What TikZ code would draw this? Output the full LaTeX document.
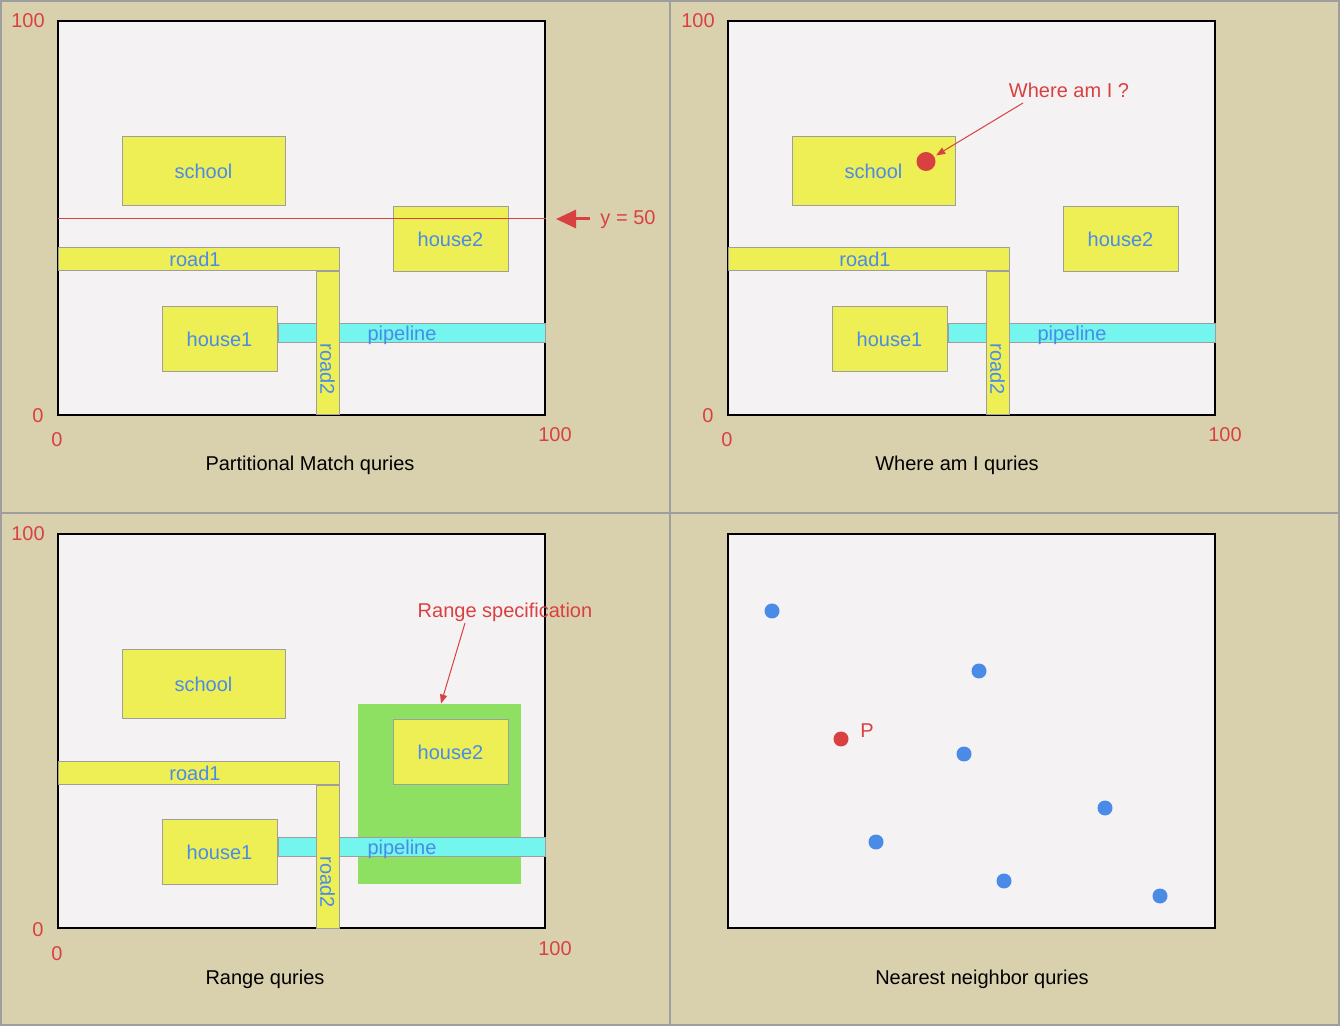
\documentclass[tikz,border=0pt]{standalone}
\usepackage{fontspec}
\setmainfont{Liberation Sans}
\usetikzlibrary{arrows.meta,positioning}
\definecolor{panelbg}{HTML}{D9D1AE}
\definecolor{mapbg}{HTML}{F4F2F3}
\definecolor{plotyellow}{HTML}{EEEE55}
\definecolor{pipecyan}{HTML}{74F5EE}
\definecolor{rangegreen}{HTML}{8EE062}
\definecolor{labelblue}{HTML}{4A8BE8}
\definecolor{notered}{HTML}{D94141}
\definecolor{framegray}{HTML}{9E9E9E}
\tikzset{
  block/.style={draw=framegray, fill=plotyellow, line width=0.5pt, inner sep=0pt, text=labelblue},
  pipe/.style={draw=framegray, fill=pipecyan, line width=0.5pt, inner sep=0pt},
  lbl/.style={text=labelblue, inner sep=0pt},
  axisnum/.style={text=notered, inner sep=0pt, anchor=base},
  note/.style={text=notered, inner sep=0pt, anchor=base},
  qtitle/.style={text=black, inner sep=0pt, anchor=base},
  pointer/.style={draw=notered, line width=0.5pt, -{Triangle[length=4.5pt,width=3.5pt]}},
  dot/.style={circle, fill=labelblue, inner sep=0pt, minimum size=7.5pt},
  red dot/.style={circle, fill=notered, inner sep=0pt, minimum size=7.5pt},
}

\begin{document}
\begin{tikzpicture}[x=0.5pt, y=-0.5pt, font=\fontsize{10}{12}\selectfont]
  \useasboundingbox (0,0) rectangle (1340,1026);

  % Panels
  \fill[panelbg] (0,0) rectangle (1340,1026);
  \draw[framegray, line width=1pt] (670,0) -- (670,1026) (0,513) -- (1340,513);
  \draw[framegray, line width=1pt] (1,1) rectangle (1339,1025);

  % Map areas
  \foreach \dx/\dy in {0/0,670/0,0/513,670/513}
    \draw[fill=mapbg, line width=0.7pt] ({58+\dx},{21+\dy}) rectangle ({545+\dx},{415+\dy});

  % Range specification box
  \node[fill=rangegreen, inner sep=0pt, minimum width=81.5pt, minimum height=90pt] (range) at (439.5,794) {};

  % City maps
  \foreach \dx/\dy/\p in {0/0/a,670/0/b,0/513/c} {
    \begin{scope}[shift={(\dx,\dy)}]
      \node[pipe, minimum width=133.5pt, minimum height=9.5pt] (pipe-\p) at (411.5,333.5) {};
      \node[block, minimum width=140.5pt, minimum height=11.5pt] (road1-\p) at (198.5,259.5) {};
      \node[block, minimum width=11.5pt, minimum height=71.5pt] (road2-\p) at (327.5,343.5) {};
      \node[block, minimum width=81.5pt, minimum height=34.5pt] (school-\p) at (203.5,171) {school};
      \node[block, minimum width=57.5pt, minimum height=32.5pt] (house1-\p) at (219.5,339) {house1};
      \node[block, minimum width=57.5pt, minimum height=32.5pt] (house2-\p) at (450.5,239) {house2};
      \node[lbl, anchor=base] (road1txt-\p) at (195,267) {road1};
      \node[lbl, anchor=base] (pipetxt-\p) at (402,341) {pipeline};
      \node[lbl, rotate=-90] (road2txt-\p) at (327.5,369) {road2};
      % Axis values
      \node[axisnum] (ymax-\p) at (28,28) {100};
      \node[axisnum] (ymin-\p) at (38,423) {0};
      \node[axisnum] (xmin-\p) at (57,447) {0};
      \node[axisnum] (xmax-\p) at (555,442) {100};
    \end{scope}
  }

  % Partitional match
  \draw[notered, line width=0.5pt] (58,219) -- (546,219);
  \node[note] (ylbl) at (628,225) {y = 50};
  \coordinate (yhead) at (556,219);
  \draw[notered, line width=1.5pt, -{Triangle[length=10pt,width=9pt]}, shorten <=5pt] (ylbl.west |- yhead) -- (yhead);

  % Where am I
  \node[red dot, minimum size=9.5pt] (me) at (926,161.5) {};
  \node[note] (whereLbl) at (1069,98) {Where am I ?};
  \coordinate (whereTail) at (1023,103);
  \draw[pointer, shorten >=1pt] (whereTail) -- (me);

  % Range query
  \node[note] (rangeLbl) at (505,618) {Range specification};
  \coordinate (rangeTail) at (465,623);
  \draw[pointer] (rangeTail) -- ([xshift=0.75pt]range.north);

  % Nearest neighbor
  \foreach \x/\y [count=\i] in {772/611,979/671,964/754,1105/808,876/842,1004/881,1160/896}
    \node[dot] (pt-\i) at (\x,\y) {};
  \node[red dot] (query) at (841,739) {};
  \node[note] (queryLbl) at (867,738) {P};

  % Titles
  \node[qtitle] (title-a) at (310,471) {Partitional Match quries};
  \node[qtitle] (title-b) at (957,471) {Where am I quries};
  \node[qtitle] (title-c) at (265,984) {Range quries};
  \node[qtitle] (title-d) at (982,984) {Nearest neighbor quries};
\end{tikzpicture}
\end{document}
